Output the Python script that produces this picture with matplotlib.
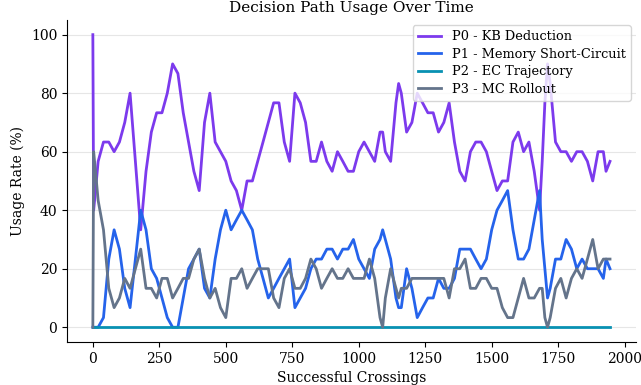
import matplotlib
matplotlib.use("Agg")
import matplotlib.pyplot as plt

crossings = [0, 3, 10, 20, 40, 60, 80, 100, 120, 140, 160, 180, 200, 220, 240, 260, 280, 300,
             320, 340, 360, 380, 400, 420, 440, 460, 480, 500, 520, 540, 560, 580, 600, 620,
             640, 660, 680, 700, 720, 740, 760, 780, 800, 820, 840, 860, 880, 900, 920, 940,
             960, 980, 1000, 1020, 1040, 1060, 1080, 1090, 1100, 1120, 1140, 1150, 1160, 1180,
             1200, 1220, 1240, 1260, 1280, 1300, 1320, 1340, 1360, 1380, 1400, 1420, 1440,
             1460, 1480, 1500, 1520, 1540, 1560, 1580, 1600, 1620, 1640, 1660, 1680, 1690,
             1700, 1710, 1720, 1740, 1760, 1780, 1800, 1820, 1840, 1860, 1880, 1900, 1920,
             1930, 1945]

p0_kb = [100, 40, 46.7, 56.7, 63.3, 63.3, 60, 63.3, 70, 80, 56.7, 33.3, 53.3, 66.7, 73.3, 73.3,
         80, 90, 86.7, 73.3, 63.3, 53.3, 46.7, 70, 80, 63.3, 60, 56.7, 50, 46.7, 40, 50, 50,
         56.7, 63.3, 70, 76.7, 76.7, 63.3, 56.7, 80, 76.7, 70, 56.7, 56.7, 63.3, 56.7, 53.3,
         60, 56.7, 53.3, 53.3, 60, 63.3, 60, 56.7, 66.7, 66.7, 60, 56.7, 76.7, 83.3, 80, 66.7,
         70, 80, 76.7, 73.3, 73.3, 66.7, 70, 76.7, 63.3, 53.3, 50, 60, 63.3, 63.3, 60, 53.3,
         46.7, 50, 50, 63.3, 66.7, 60, 63.3, 53.3, 40, 56.7, 76.7, 90, 83.3, 63.3, 60, 60,
         56.7, 60, 60, 56.7, 50, 60, 60, 53.3, 56.7]

p1_memory = [0, 0, 0, 0, 3.3, 23.3, 33.3, 26.7, 13.3, 6.7, 23.3, 40, 33.3, 20, 16.7, 10, 3.3, 0,
             0, 10, 20, 23.3, 26.7, 13.3, 10, 23.3, 33.3, 40, 33.3, 36.7, 40, 36.7, 33.3, 23.3,
             16.7, 10, 13.3, 16.7, 20, 23.3, 6.7, 10, 13.3, 20, 23.3, 23.3, 26.7, 26.7, 23.3,
             26.7, 26.7, 30, 23.3, 20, 16.7, 26.7, 30, 33.3, 30, 23.3, 10, 6.7, 6.7, 20, 13.3,
             3.3, 6.7, 10, 10, 16.7, 13.3, 13.3, 16.7, 26.7, 26.7, 26.7, 23.3, 20, 23.3, 33.3,
             40, 43.3, 46.7, 33.3, 23.3, 23.3, 26.7, 36.7, 46.7, 30, 20, 10, 13.3, 23.3, 23.3,
             30, 26.7, 20, 23.3, 20, 20, 20, 16.7, 23.3, 20]

p2_ec = [0] * len(crossings)

p3_mc = [0, 60, 53.3, 43.3, 33.3, 13.3, 6.7, 10, 16.7, 13.3, 20, 26.7, 13.3, 13.3, 10, 16.7,
         16.7, 10, 13.3, 16.7, 16.7, 23.3, 26.7, 16.7, 10, 13.3, 6.7, 3.3, 16.7, 16.7, 20,
         13.3, 16.7, 20, 20, 20, 10, 6.7, 16.7, 20, 13.3, 13.3, 16.7, 23.3, 20, 13.3, 16.7,
         20, 16.7, 16.7, 20, 16.7, 16.7, 16.7, 23.3, 16.7, 3.3, 0, 10, 20, 13.3, 10, 13.3,
         13.3, 16.7, 16.7, 16.7, 16.7, 16.7, 16.7, 16.7, 10, 20, 20, 23.3, 13.3, 13.3, 16.7,
         16.7, 13.3, 13.3, 6.7, 3.3, 3.3, 10, 16.7, 10, 10, 13.3, 13.3, 3.3, 0, 3.3, 13.3,
         16.7, 10, 16.7, 20, 16.7, 23.3, 30, 20, 23.3, 23.3, 23.3]

labels = ["P0 - KB Deduction", "P1 - Memory Short-Circuit", "P2 - EC Trajectory", "P3 - MC Rollout"]
colors = ["#7c3aed", "#2563eb", "#0891b2", "#64748b"]

plt.rcParams["font.family"] = ["DejaVu Serif"]

fig = plt.figure(figsize=(6.41, 3.85), dpi=100)
ax = fig.add_axes([0.1045, 0.112, 0.8875, 0.836])

for series, lab, col in zip([p0_kb, p1_memory, p2_ec, p3_mc], labels, colors):
    ax.plot(crossings, series, color=col, linewidth=2, label=lab)

ax.set_title("Decision Path Usage Over Time", fontsize=11)
ax.set_xlabel("Successful Crossings", fontsize=10)
ax.set_ylabel("Usage Rate (%)", fontsize=10)
ax.set_yticks([0, 20, 40, 60, 80, 100])
ax.set_xticks([0, 250, 500, 750, 1000, 1250, 1500, 1750, 2000])
ax.tick_params(labelsize=10)
ax.grid(axis="y", color="#e6e6e6", linewidth=0.8)
ax.set_axisbelow(True)
ax.spines["top"].set_visible(False)
ax.spines["right"].set_visible(False)
ax.legend(loc="upper right", fontsize=9.3, framealpha=0.8, labelspacing=0.35,
          handlelength=1.8, borderaxespad=0.4)

fig.savefig("out.png", dpi=100)
